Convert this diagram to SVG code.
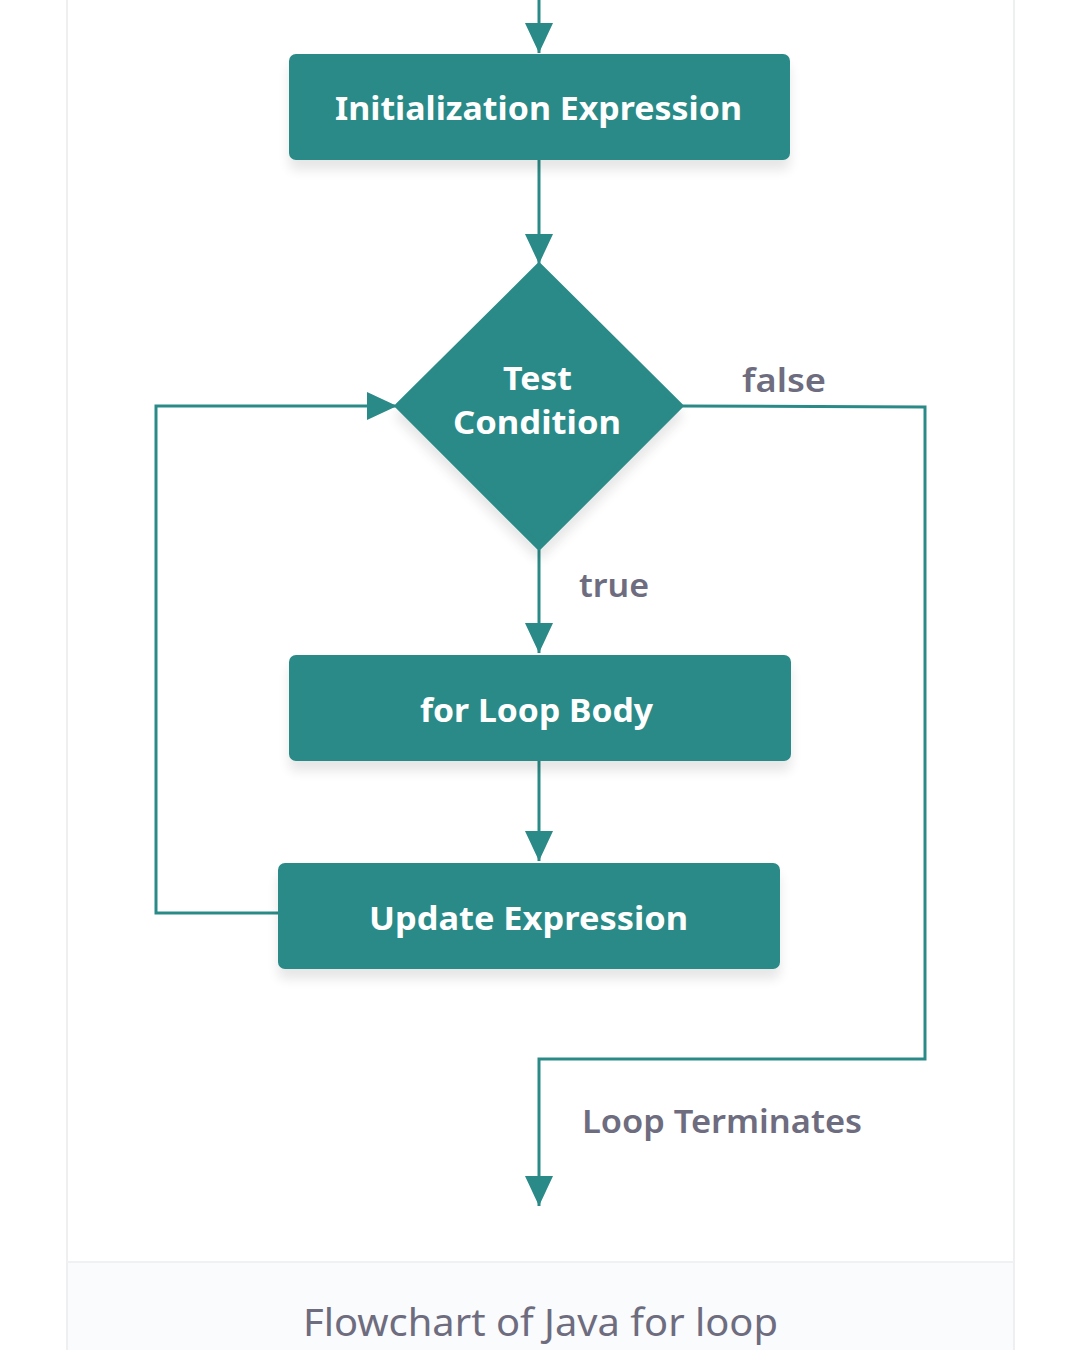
<svg xmlns="http://www.w3.org/2000/svg" width="1080" height="1350" viewBox="0 0 1080 1350">
<defs>
<style>
.node{fill:#2a8a87;}
.ntext{fill:#ffffff;font-family:"Noto Sans","Open Sans",sans-serif;font-weight:700;font-size:32px;font-variant-ligatures:none;}
.lbl{fill:#6e6c7f;font-family:"Noto Sans","Open Sans",sans-serif;font-weight:600;font-size:32px;font-variant-ligatures:none;}
.conn{fill:none;stroke:#2a8a87;stroke-width:3;}
.cap{fill:#6e6c7f;font-family:"Noto Sans","Open Sans",sans-serif;font-weight:400;font-size:38px;font-variant-ligatures:none;}
</style>
<marker id="arr" viewBox="0 0 30 28" refX="30" refY="14" markerWidth="30" markerHeight="28" markerUnits="userSpaceOnUse" orient="auto">
<path d="M0,0 L30,14 L0,28 Z" fill="#2a8a87"/>
</marker>
<filter id="sh" x="-10%" y="-20%" width="120%" height="160%">
<feGaussianBlur in="SourceAlpha" stdDeviation="6"/>
<feOffset dy="10"/>
<feComponentTransfer><feFuncA type="linear" slope="0.10"/></feComponentTransfer>
<feMerge><feMergeNode/><feMergeNode in="SourceGraphic"/></feMerge>
</filter>
</defs>
<rect x="0" y="0" width="1080" height="1350" fill="#ffffff"/>
<g id="frame">
<rect x="67" y="1262" width="947" height="90" fill="#fafbfc"/>
<line x1="67" y1="0" x2="67" y2="1350" stroke="#eeeff1" stroke-width="2"/>
<line x1="1014" y1="0" x2="1014" y2="1350" stroke="#eeeff1" stroke-width="2"/>
<line x1="67" y1="1262" x2="1014" y2="1262" stroke="#f0f1f3" stroke-width="2"/>
</g>
<g id="connectors">
<path class="conn" d="M539,0 L539,53" marker-end="url(#arr)"/>
<path class="conn" d="M539,160 L539,264" marker-end="url(#arr)"/>
<path class="conn" d="M539,548 L539,653" marker-end="url(#arr)"/>
<path class="conn" d="M539,761 L539,861" marker-end="url(#arr)"/>
<path class="conn" d="M278,913 L156,913 L156,406 L397,406" marker-end="url(#arr)"/>
<path class="conn" d="M680,406 L925,407 L925,1059 L539,1059 L539,1206" marker-end="url(#arr)"/>
</g>
<g id="init">
<rect class="node" x="289" y="54" width="501" height="106" rx="7" filter="url(#sh)"/>
<text class="ntext" x="335" y="120" textLength="407" lengthAdjust="spacingAndGlyphs">Initialization Expression</text>
</g>
<g id="test">
<path class="node" d="M539,266 L680,406 L539,547 L398,406 Z" stroke="#2a8a87" stroke-width="6" stroke-linejoin="round" filter="url(#sh)"/>
<text class="ntext" x="503" y="390" textLength="69" lengthAdjust="spacingAndGlyphs">Test</text>
<text class="ntext" x="453" y="434" textLength="168" lengthAdjust="spacingAndGlyphs">Condition</text>
</g>
<g id="body">
<rect class="node" x="289" y="655" width="502" height="106" rx="7" filter="url(#sh)"/>
<text class="ntext" x="420" y="722" textLength="233" lengthAdjust="spacingAndGlyphs">for Loop Body</text>
</g>
<g id="update">
<rect class="node" x="278" y="863" width="502" height="106" rx="7" filter="url(#sh)"/>
<text class="ntext" x="369" y="930" textLength="319" lengthAdjust="spacingAndGlyphs">Update Expression</text>
</g>
<g id="labels">
<text class="lbl" x="742" y="392" textLength="84" lengthAdjust="spacingAndGlyphs">false</text>
<text class="lbl" x="579" y="597" textLength="70" lengthAdjust="spacingAndGlyphs">true</text>
<text class="lbl" x="582" y="1133" textLength="280" lengthAdjust="spacingAndGlyphs">Loop Terminates</text>
</g>
<text class="cap" x="303" y="1336" textLength="475" lengthAdjust="spacingAndGlyphs">Flowchart of Java for loop</text>
</svg>
